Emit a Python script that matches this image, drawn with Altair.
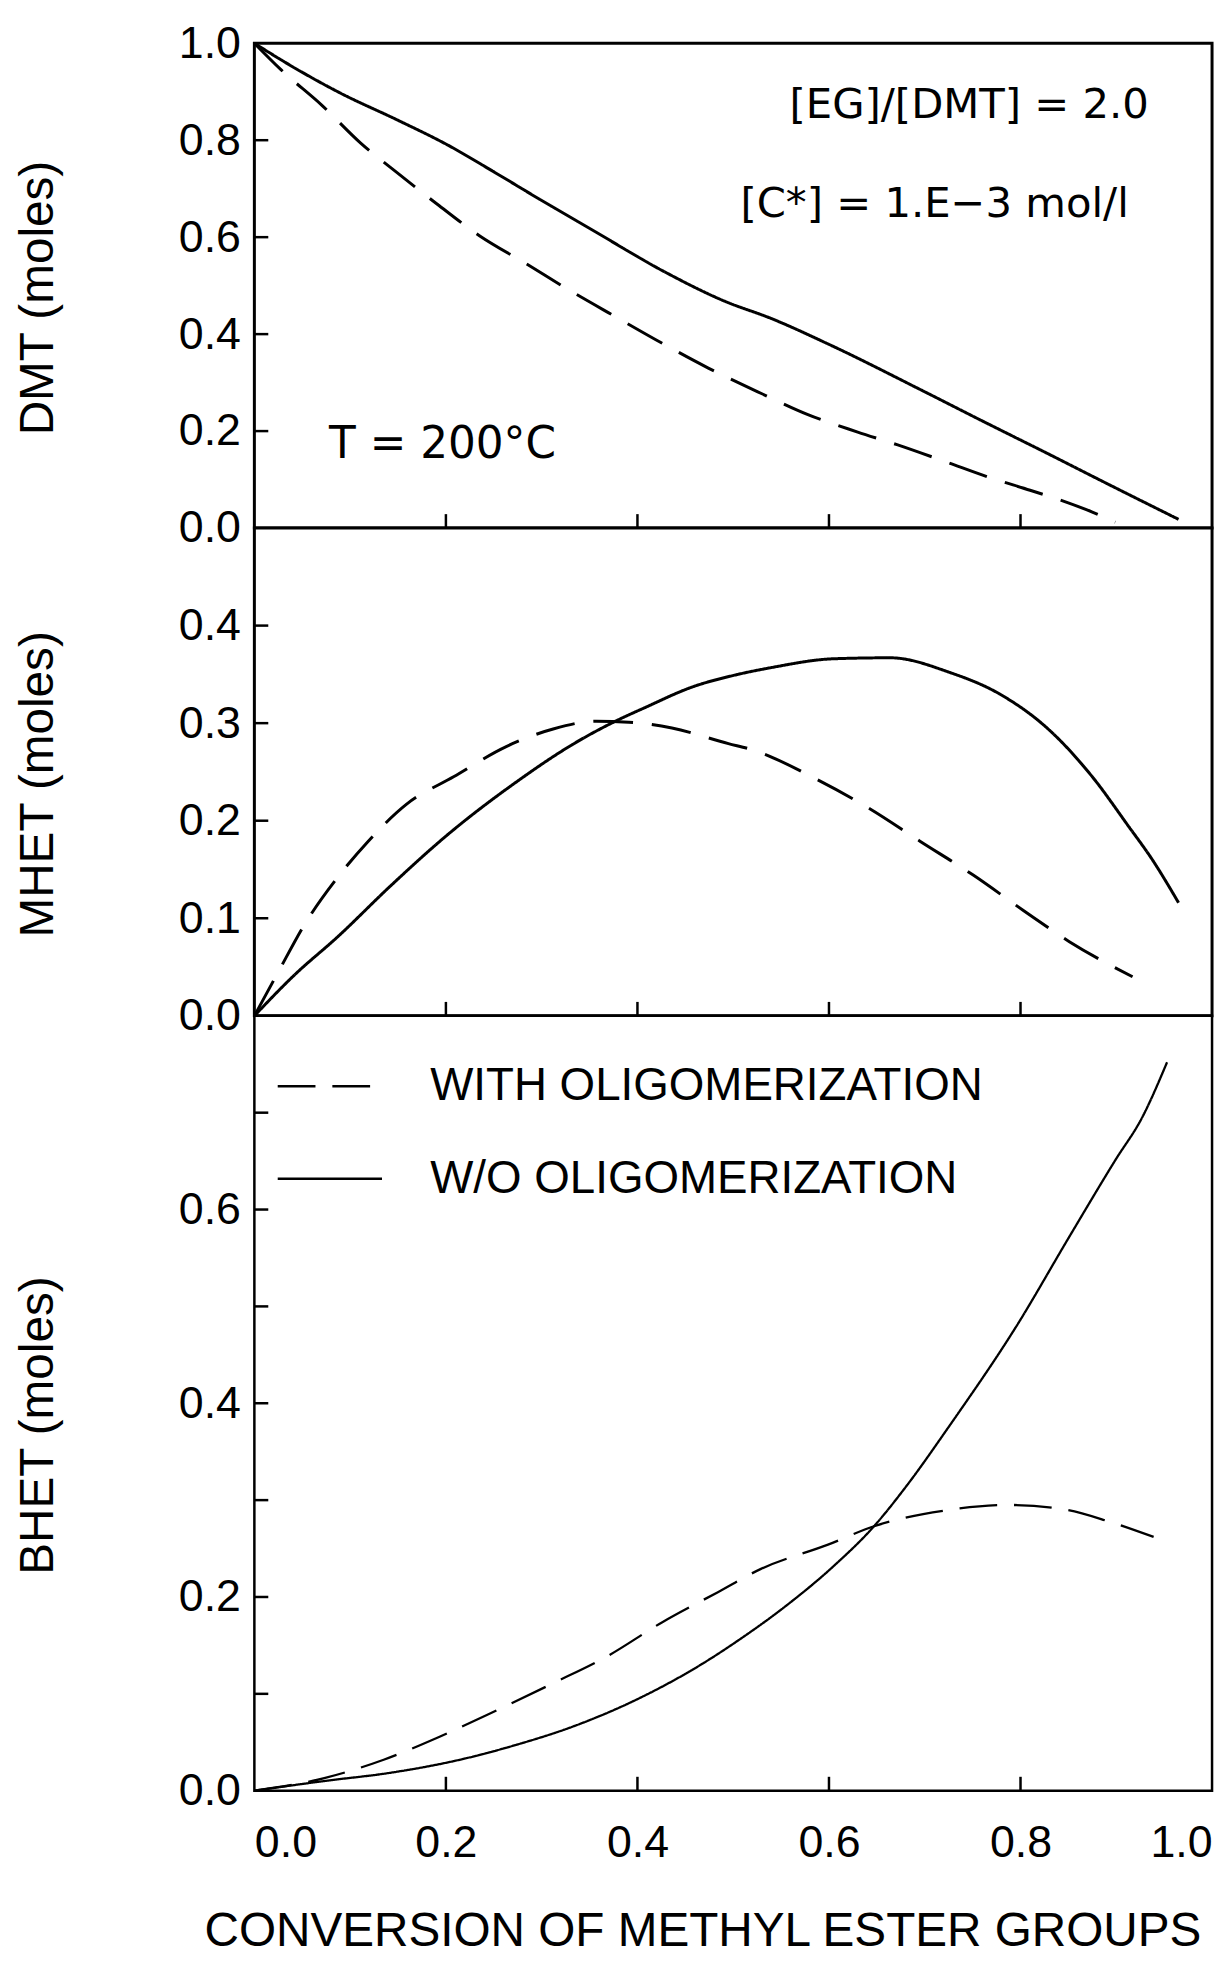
import altair as alt
import pandas as pd

FONT = "Liberation Sans, Arial, Helvetica, sans-serif"
NOTE_FONT = "DejaVu Sans, Liberation Sans, sans-serif"
SERIES = ["WITH OLIGOMERIZATION", "W/O OLIGOMERIZATION"]

# ---------------- data ----------------
DMT_WITH_X = [0, 0.028, 0.070, 0.111, 0.149, 0.191, 0.235, 0.284, 0.332, 0.377, 0.426, 0.474,
              0.530, 0.578, 0.630, 0.671, 0.720, 0.768, 0.810, 0.844, 0.875, 0.899]
DMT_WITH_Y = [1.0, 0.945, 0.873, 0.794, 0.733, 0.668, 0.603, 0.545, 0.487, 0.436, 0.381, 0.330,
              0.277, 0.234, 0.198, 0.172, 0.138, 0.104, 0.078, 0.056, 0.033, 0.012]
DMT_WO_X = [0, 0.031, 0.090, 0.149, 0.201, 0.249, 0.298, 0.357, 0.426, 0.491, 0.540, 0.602,
            0.699, 0.761, 0.830, 0.892, 0.965]
DMT_WO_Y = [1.0, 0.962, 0.897, 0.842, 0.791, 0.736, 0.678, 0.610, 0.531, 0.468, 0.432, 0.377,
            0.282, 0.220, 0.152, 0.090, 0.018]

MHET_WITH_X = [0, 0.025, 0.052, 0.087, 0.118, 0.159, 0.208, 0.263, 0.312, 0.357, 0.391, 0.436,
               0.495, 0.519, 0.588, 0.643, 0.695, 0.751, 0.803, 0.851, 0.917]
MHET_WITH_Y = [0, 0.045, 0.093, 0.142, 0.178, 0.217, 0.245, 0.276, 0.294, 0.302, 0.301, 0.295,
               0.279, 0.273, 0.242, 0.212, 0.179, 0.144, 0.108, 0.076, 0.040]
MHET_WO_X = [0, 0.042, 0.087, 0.142, 0.201, 0.274, 0.332, 0.377, 0.408, 0.457, 0.505, 0.540,
             0.605, 0.664, 0.726, 0.778, 0.830, 0.875, 0.913, 0.937, 0.965]
MHET_WO_Y = [0, 0.042, 0.081, 0.133, 0.185, 0.240, 0.278, 0.302, 0.316, 0.337, 0.350, 0.357,
             0.366, 0.367, 0.352, 0.330, 0.293, 0.245, 0.194, 0.161, 0.116]

BHET_WITH_X = [0, 0.073, 0.135, 0.194, 0.253, 0.312, 0.367, 0.426, 0.484, 0.529, 0.599, 0.647,
               0.726, 0.789, 0.848, 0.892, 0.939]
BHET_WITH_Y = [0, 0.013, 0.032, 0.056, 0.083, 0.111, 0.138, 0.174, 0.205, 0.229, 0.254, 0.273,
               0.290, 0.295, 0.290, 0.278, 0.262]
BHET_WO_X = [0, 0.073, 0.142, 0.208, 0.274, 0.332, 0.401, 0.471, 0.505, 0.554, 0.605, 0.647,
             0.682, 0.726, 0.796, 0.851, 0.899, 0.927, 0.953]
BHET_WO_Y = [0, 0.010, 0.0185, 0.0305, 0.0475, 0.066, 0.095, 0.133, 0.155, 0.190, 0.232, 0.273,
             0.316, 0.377, 0.480, 0.572, 0.651, 0.695, 0.752]

X_TICKS = [0.2, 0.4, 0.6, 0.8]
X_LABELS = [0.0, 0.2, 0.4, 0.6, 0.8, 1.0]
DMT_TICKS = [0.2, 0.4, 0.6, 0.8]
DMT_LABELS = [0.0, 0.2, 0.4, 0.6, 0.8, 1.0]
MHET_TICKS = [0.1, 0.2, 0.3, 0.4]
MHET_LABELS = [0.0, 0.1, 0.2, 0.3, 0.4]
BHET_TICKS = [0.1, 0.2, 0.3, 0.4, 0.5, 0.6, 0.7]
BHET_LABELS = [0.0, 0.2, 0.4, 0.6]

# annotations (data coordinates of the top panel)
NOTE_RIGHT_TEXT = ["[EG]/[DMT]  =  2.0", "[C*]  =  1.E\u22123  mol/l"]
NOTE_RIGHT_X = [0.934, 0.913]
NOTE_RIGHT_Y = [0.872, 0.669]
NOTE_LEFT_TEXT = ["T  =  200\u00b0C"]
NOTE_LEFT_X = [0.078]
NOTE_LEFT_Y = [0.172]

W = 964


def series_df(xw, yw, xo, yo):
    return pd.DataFrame({
        "x": list(xw) + list(xo),
        "y": list(yw) + list(yo),
        "series": [SERIES[0]] * len(xw) + [SERIES[1]] * len(xo),
    })


def make_panel(df, ytitle, ydom, ylabels, yticks, height, title_dy, sw, dash,
               show_x=False, legend=None, notes=False, frame_w=3):
    xaxis = None
    if show_x:
        xaxis = alt.Axis(values=X_LABELS, format=".1f", labelFlush=True, ticks=False,
                         tickSize=0, domain=False, grid=False, labelFontSize=45,
                         labelFont=FONT, labelColor="black", labelPadding=30,
                         title="CONVERSION OF METHYL ESTER GROUPS", titleFont=FONT,
                         titleFontSize=48, titleFontWeight="normal", titleColor="black",
                         titleX=451, titleY=156, titleAlign="center",
                         titleBaseline="alphabetic")
    yaxis = alt.Axis(values=ylabels, format=".1f", ticks=False, tickSize=0, domain=False,
                     grid=False, labelFontSize=45, labelFont=FONT, labelColor="black",
                     labelPadding=14, title=ytitle, titleFont=FONT, titleFontSize=48,
                     titleFontWeight="normal", titleColor="black", titleAngle=270,
                     titleAlign="center", titleBaseline="middle", titleX=-217,
                     titleY=height / 2 + title_dy)

    def xch(field="x"):
        return alt.X(f"{field}:Q", scale=alt.Scale(domain=[0, 1], nice=False, zero=False),
                     axis=xaxis)

    def ych(field="y"):
        return alt.Y(f"{field}:Q", scale=alt.Scale(domain=ydom, nice=False, zero=False),
                     axis=yaxis)

    lines = alt.Chart(df).mark_line(color="black", strokeWidth=sw,
                                    interpolate="monotone").encode(
        x=xch(), y=ych(),
        strokeDash=alt.StrokeDash("series:N",
                                  scale=alt.Scale(domain=SERIES, range=[dash, [1, 0]]),
                                  legend=legend),
        detail="series:N",
    )
    ytick = alt.Chart(pd.DataFrame({"y": yticks})).mark_rule(
        color="black", strokeWidth=2.5).encode(y=ych(), x=alt.value(0), x2=alt.value(14))
    xtick = alt.Chart(pd.DataFrame({"x": X_TICKS})).mark_rule(
        color="black", strokeWidth=2.5).encode(x=xch(), y=alt.value(height),
                                              y2=alt.value(height - 14))
    layers = [lines, ytick, xtick]
    if notes:
        right = alt.Chart(pd.DataFrame({"x": NOTE_RIGHT_X, "y": NOTE_RIGHT_Y,
                                        "t": NOTE_RIGHT_TEXT})).mark_text(
            align="right", baseline="middle", font=NOTE_FONT, fontSize=42, color="black"
        ).encode(x=xch(), y=ych(), text="t:N")
        left = alt.Chart(pd.DataFrame({"x": NOTE_LEFT_X, "y": NOTE_LEFT_Y,
                                       "t": NOTE_LEFT_TEXT})).mark_text(
            align="left", baseline="middle", font=NOTE_FONT, fontSize=44, color="black"
        ).encode(x=xch(), y=ych(), text="t:N")
        layers += [right, left]
    return alt.layer(*layers).properties(
        width=W, height=height,
        view=alt.ViewBackground(stroke="black", strokeWidth=frame_w, fill="white"),
    )


top = make_panel(series_df(DMT_WITH_X, DMT_WITH_Y, DMT_WO_X, DMT_WO_Y), "DMT (moles)",
                 [0, 1.0], DMT_LABELS, DMT_TICKS, 488, 12, 3, [40, 19], notes=True)
mid = make_panel(series_df(MHET_WITH_X, MHET_WITH_Y, MHET_WO_X, MHET_WO_Y), "MHET (moles)",
                 [0, 0.5], MHET_LABELS, MHET_TICKS, 491, 12, 3, [40, 19])
legend = alt.Legend(orient="none", legendX=22, legendY=17, title=None, symbolType="stroke",
                    symbolSize=11025, symbolStrokeWidth=2.5, symbolStrokeColor="black",
                    labelFontSize=46, labelFont=FONT, labelColor="black", labelOffset=47,
                    labelLimit=1000, rowPadding=16)
bot = make_panel(series_df(BHET_WITH_X, BHET_WITH_Y, BHET_WO_X, BHET_WO_Y), "BHET (moles)",
                 [0, 0.8], BHET_LABELS, BHET_TICKS, 780, 22, 2.3, [38, 17],
                 show_x=True, legend=legend, frame_w=2.5)

chart = alt.vconcat(top, mid, bot, spacing=0, bounds="flush").resolve_scale(
    strokeDash="independent", x="independent", y="independent"
).configure(
    font=FONT, background="white", padding={"left": 5, "top": 5, "right": 5, "bottom": 5}
)

chart.save("out.html", embed_options={"renderer": "svg", "actions": False})
